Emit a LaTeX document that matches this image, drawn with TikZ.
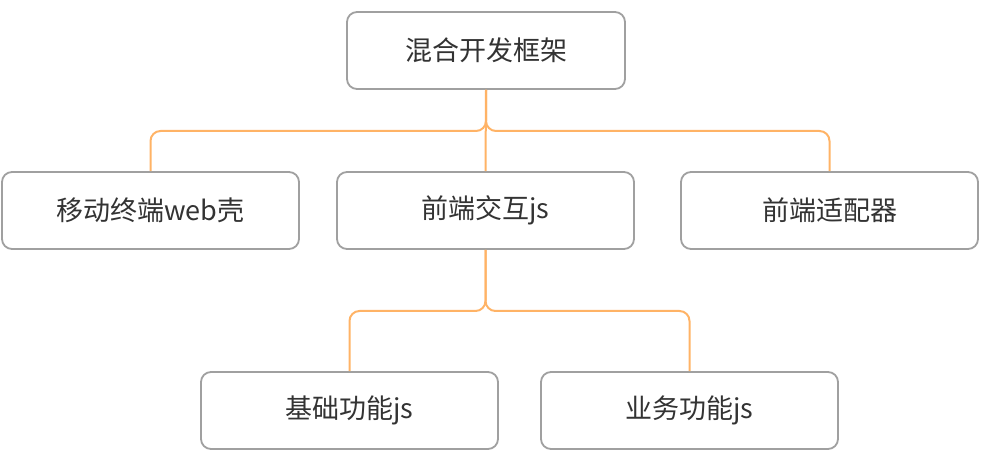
\documentclass[tikz,border=0pt]{standalone}
\usepackage{fontspec}
\setmainfont{Noto Sans CJK SC}
\begin{document}
\begin{tikzpicture}[x=1pt,y=-1pt,
  box/.style={draw=boxgray, line width=1.8pt, rounded corners=10pt, minimum width=297pt, minimum height=77pt, inner sep=0pt, text=textgray, font=\fontsize{27}{31}\selectfont},
  topbox/.style={box, minimum width=278pt},
  link/.style={draw=linkorange, line width=2pt, rounded corners=10pt}
]
\definecolor{boxgray}{HTML}{A0A0A0}
\definecolor{textgray}{HTML}{333333}
\definecolor{linkorange}{HTML}{FFB366}
\useasboundingbox (0,0) rectangle (994,462);
\node[topbox] (root) at (486,50.5) {混合开发框架};
\node[box] (m1) at (150.5,210.5) {移动终端web壳};
\node[box] (m2) at (485.5,210.5) {前端交互js};
\node[box] (m3) at (829.5,210.5) {前端适配器};
\node[box] (b1) at (349.5,410.5) {基础功能js};
\node[box] (b2) at (689.5,410.5) {业务功能js};
\draw[link] (root.south) |- (150.5,131) -- (m1.north);
\draw[link] (root.south) |- (829.5,131) -- (m3.north);
\draw[link] (root.south) -- (m2.north);
\draw[link] (m2.south) |- (349.5,311) -- (b1.north);
\draw[link] (m2.south) |- (689.5,311) -- (b2.north);
\end{tikzpicture}
\end{document}
